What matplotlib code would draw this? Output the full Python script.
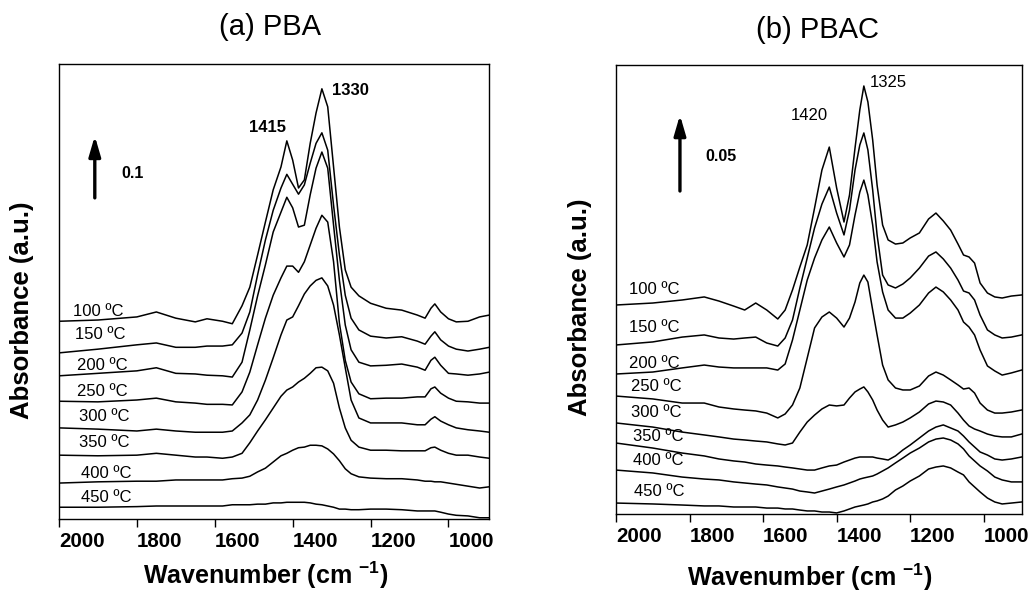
import matplotlib
matplotlib.use("Agg")
import matplotlib.pyplot as plt

plt.rcParams['font.family'] = ['Liberation Sans', 'DejaVu Sans']
plt.rcParams['mathtext.fontset'] = 'custom'
plt.rcParams['mathtext.rm'] = 'Liberation Sans'
plt.rcParams['mathtext.bf'] = 'Liberation Sans:bold'

temps = ["100 ºC", "150 ºC", "200 ºC", "250 ºC", "300 ºC", "350 ºC", "400 ºC", "450 ºC"]
ticks = [2000, 1800, 1600, 1400, 1200, 1000]

# (a) PBA, stacked spectra (absorbance incl. offset)
wn_pba = [2000, 1900, 1800, 1750, 1700, 1650, 1620, 1580, 1555, 1530, 1510, 1490, 1470, 1450,
          1430, 1415, 1400, 1385, 1370, 1355, 1340, 1325, 1310, 1295, 1280, 1265, 1250, 1230,
          1200, 1160, 1120, 1080, 1060, 1045, 1035, 1020, 1000, 980, 950, 920, 895]
pba_100 = [0.319, 0.321, 0.326, 0.334, 0.324, 0.318, 0.323, 0.319, 0.315, 0.344, 0.374, 0.426, 0.479, 0.531,
           0.568, 0.610, 0.579, 0.534, 0.547, 0.606, 0.655, 0.694, 0.665, 0.568, 0.471, 0.402, 0.374, 0.360,
           0.348, 0.340, 0.337, 0.329, 0.324, 0.340, 0.347, 0.334, 0.323, 0.318, 0.319, 0.326, 0.329]
pba_150 = [0.268, 0.274, 0.281, 0.284, 0.277, 0.277, 0.279, 0.279, 0.281, 0.300, 0.334, 0.394, 0.450, 0.498,
           0.534, 0.556, 0.540, 0.524, 0.539, 0.574, 0.606, 0.623, 0.595, 0.506, 0.426, 0.361, 0.324, 0.305,
           0.295, 0.292, 0.294, 0.287, 0.282, 0.295, 0.302, 0.289, 0.279, 0.274, 0.271, 0.274, 0.277]
pba_200 = [0.231, 0.235, 0.239, 0.244, 0.235, 0.234, 0.232, 0.231, 0.229, 0.253, 0.305, 0.360, 0.410, 0.463,
           0.495, 0.519, 0.502, 0.471, 0.474, 0.523, 0.566, 0.592, 0.566, 0.474, 0.385, 0.313, 0.273, 0.253,
           0.247, 0.248, 0.250, 0.245, 0.240, 0.256, 0.261, 0.248, 0.235, 0.234, 0.232, 0.234, 0.237]
pba_250 = [0.190, 0.189, 0.192, 0.195, 0.189, 0.187, 0.185, 0.185, 0.184, 0.205, 0.237, 0.281, 0.324, 0.361,
           0.389, 0.408, 0.408, 0.398, 0.415, 0.442, 0.469, 0.490, 0.479, 0.415, 0.316, 0.256, 0.221, 0.202,
           0.194, 0.195, 0.195, 0.197, 0.197, 0.210, 0.213, 0.203, 0.195, 0.190, 0.189, 0.187, 0.187]
pba_300 = [0.147, 0.145, 0.142, 0.145, 0.142, 0.140, 0.140, 0.140, 0.142, 0.155, 0.168, 0.192, 0.224, 0.260,
           0.297, 0.321, 0.326, 0.344, 0.363, 0.376, 0.385, 0.389, 0.376, 0.345, 0.297, 0.244, 0.192, 0.163,
           0.155, 0.155, 0.155, 0.152, 0.152, 0.161, 0.165, 0.158, 0.152, 0.147, 0.144, 0.142, 0.140]
pba_350 = [0.103, 0.102, 0.103, 0.106, 0.103, 0.100, 0.100, 0.098, 0.100, 0.106, 0.123, 0.142, 0.160, 0.179,
           0.198, 0.208, 0.213, 0.221, 0.227, 0.235, 0.244, 0.245, 0.239, 0.219, 0.179, 0.147, 0.127, 0.116,
           0.111, 0.111, 0.110, 0.110, 0.110, 0.115, 0.116, 0.111, 0.106, 0.103, 0.103, 0.100, 0.098]
pba_400 = [0.058, 0.060, 0.061, 0.061, 0.063, 0.063, 0.063, 0.063, 0.065, 0.066, 0.069, 0.076, 0.082, 0.092,
           0.102, 0.106, 0.111, 0.115, 0.116, 0.119, 0.119, 0.118, 0.113, 0.105, 0.094, 0.081, 0.073, 0.068,
           0.066, 0.065, 0.065, 0.063, 0.061, 0.061, 0.060, 0.060, 0.058, 0.056, 0.053, 0.050, 0.052]
pba_450 = [0.019, 0.019, 0.020, 0.021, 0.021, 0.021, 0.021, 0.021, 0.023, 0.023, 0.023, 0.024, 0.024, 0.026,
           0.026, 0.027, 0.027, 0.027, 0.027, 0.026, 0.024, 0.023, 0.021, 0.019, 0.016, 0.016, 0.015, 0.015,
           0.016, 0.016, 0.015, 0.013, 0.013, 0.013, 0.013, 0.011, 0.008, 0.006, 0.005, 0.002, 0.002]

# (b) PBAC
wn_pbac = [2000, 1900, 1820, 1760, 1720, 1680, 1650, 1620, 1590, 1560, 1540, 1520, 1500, 1480, 1460,
           1440, 1420, 1400, 1380, 1365, 1350, 1337, 1326, 1315, 1302, 1290, 1275, 1260, 1240, 1220,
           1200, 1175, 1150, 1130, 1110, 1090, 1070, 1055, 1040, 1025, 1010, 990, 970, 950, 925, 897]
pbac_100 = [0.1375, 0.1388, 0.1408, 0.1428, 0.1401, 0.1368, 0.1342, 0.1388, 0.1342, 0.1283, 0.1342, 0.1474,
            0.1625, 0.1770, 0.2013, 0.2263, 0.2414, 0.2145, 0.1921, 0.2099, 0.2408, 0.2658, 0.2816, 0.2711,
            0.2461, 0.2164, 0.1901, 0.1803, 0.1776, 0.1783, 0.1816, 0.1849, 0.1941, 0.1980, 0.1928, 0.1868,
            0.1776, 0.1704, 0.1691, 0.1651, 0.1520, 0.1454, 0.1428, 0.1421, 0.1434, 0.1441]
pbac_150 = [0.1112, 0.1132, 0.1164, 0.1178, 0.1158, 0.1151, 0.1158, 0.1164, 0.1125, 0.1105, 0.1158, 0.1276,
            0.1487, 0.1684, 0.1882, 0.2039, 0.2151, 0.1980, 0.1836, 0.2000, 0.2263, 0.2428, 0.2507, 0.2395,
            0.2132, 0.1836, 0.1572, 0.1507, 0.1487, 0.1513, 0.1553, 0.1618, 0.1697, 0.1724, 0.1678, 0.1618,
            0.1539, 0.1467, 0.1454, 0.1408, 0.1309, 0.1211, 0.1178, 0.1158, 0.1164, 0.1178]
pbac_200 = [0.0921, 0.0934, 0.0961, 0.0980, 0.0967, 0.0961, 0.0961, 0.0961, 0.0961, 0.0947, 0.0987, 0.1145,
            0.1342, 0.1539, 0.1684, 0.1803, 0.1888, 0.1783, 0.1691, 0.1770, 0.1967, 0.2118, 0.2197, 0.2099,
            0.1901, 0.1658, 0.1461, 0.1342, 0.1289, 0.1289, 0.1322, 0.1375, 0.1454, 0.1493, 0.1461, 0.1408,
            0.1342, 0.1263, 0.1230, 0.1178, 0.1079, 0.0974, 0.0941, 0.0914, 0.0928, 0.0947]
pbac_250 = [0.0776, 0.0757, 0.0730, 0.0730, 0.0704, 0.0691, 0.0684, 0.0678, 0.0664, 0.0632, 0.0658, 0.0717,
            0.0829, 0.1026, 0.1224, 0.1296, 0.1329, 0.1289, 0.1230, 0.1289, 0.1395, 0.1520, 0.1572, 0.1526,
            0.1342, 0.1178, 0.0980, 0.0882, 0.0829, 0.0816, 0.0816, 0.0842, 0.0908, 0.0934, 0.0914, 0.0882,
            0.0849, 0.0822, 0.0829, 0.0796, 0.0730, 0.0684, 0.0664, 0.0664, 0.0671, 0.0684]
pbac_300 = [0.0599, 0.0572, 0.0539, 0.0520, 0.0507, 0.0493, 0.0487, 0.0480, 0.0474, 0.0461, 0.0454, 0.0467,
            0.0539, 0.0605, 0.0651, 0.0691, 0.0717, 0.0711, 0.0717, 0.0763, 0.0803, 0.0822, 0.0836, 0.0803,
            0.0750, 0.0684, 0.0618, 0.0572, 0.0586, 0.0605, 0.0632, 0.0671, 0.0724, 0.0743, 0.0737, 0.0717,
            0.0664, 0.0618, 0.0579, 0.0559, 0.0546, 0.0526, 0.0513, 0.0507, 0.0507, 0.0526]
pbac_350 = [0.0467, 0.0434, 0.0401, 0.0382, 0.0362, 0.0349, 0.0342, 0.0329, 0.0322, 0.0316, 0.0309, 0.0303,
            0.0296, 0.0289, 0.0289, 0.0303, 0.0316, 0.0322, 0.0342, 0.0355, 0.0368, 0.0375, 0.0375, 0.0375,
            0.0375, 0.0368, 0.0362, 0.0355, 0.0382, 0.0421, 0.0454, 0.0500, 0.0546, 0.0572, 0.0586, 0.0566,
            0.0546, 0.0513, 0.0474, 0.0441, 0.0408, 0.0388, 0.0362, 0.0355, 0.0362, 0.0375]
pbac_400 = [0.0289, 0.0270, 0.0243, 0.0230, 0.0224, 0.0211, 0.0204, 0.0197, 0.0191, 0.0178, 0.0171, 0.0164,
            0.0151, 0.0145, 0.0138, 0.0151, 0.0164, 0.0178, 0.0191, 0.0204, 0.0217, 0.0230, 0.0237, 0.0243,
            0.0250, 0.0263, 0.0283, 0.0303, 0.0336, 0.0368, 0.0401, 0.0434, 0.0474, 0.0493, 0.0500, 0.0487,
            0.0461, 0.0428, 0.0382, 0.0349, 0.0316, 0.0283, 0.0243, 0.0224, 0.0211, 0.0211]
pbac_450 = [0.0072, 0.0066, 0.0059, 0.0053, 0.0053, 0.0046, 0.0046, 0.0046, 0.0039, 0.0039, 0.0033, 0.0033,
            0.0026, 0.0020, 0.0020, 0.0013, 0.0013, 0.0007, 0.0020, 0.0033, 0.0046, 0.0053, 0.0059, 0.0066,
            0.0079, 0.0086, 0.0099, 0.0118, 0.0158, 0.0184, 0.0217, 0.0250, 0.0296, 0.0309, 0.0316, 0.0303,
            0.0276, 0.0257, 0.0211, 0.0178, 0.0145, 0.0105, 0.0079, 0.0066, 0.0072, 0.0079]

pba = [pba_100, pba_150, pba_200, pba_250, pba_300, pba_350, pba_400, pba_450]
pbac = [pbac_100, pbac_150, pbac_200, pbac_250, pbac_300, pbac_350, pbac_400, pbac_450]


def style(ax, ymax):
    ax.set_xlim(2000, 896)
    ax.set_ylim(0, ymax)
    ax.set_yticks([])
    ax.set_xticks(ticks, labels=[str(t) for t in ticks], fontweight="bold", ha="left", fontsize=14.8)
    ax.tick_params(axis="x", direction="out", length=5.5, width=1, pad=4)
    for s in ax.spines.values():
        s.set_linewidth(1.0)


def scale_arrow(ax, x, y0, dy, txt, tx, ty):
    ax.annotate("", xy=(x, y0 + dy), xytext=(x, y0),
                arrowprops=dict(arrowstyle="-|>,head_length=1.2,head_width=0.35", lw=2.4,
                                color="black", shrinkA=0, shrinkB=0, mutation_scale=10))
    ax.text(tx, ty, txt, fontsize=11.5, fontweight="bold", ha="left", va="center")


fig = plt.figure(figsize=(10.29, 5.91), dpi=100)
ax1 = fig.add_axes([0.0573, 0.1218, 0.4179, 0.7699])
ax2 = fig.add_axes([0.5986, 0.1303, 0.3946, 0.7597])

for ys in pba:
    ax1.plot(wn_pba, ys, color="black", lw=1.1)
for ys in pbac:
    ax2.plot(wn_pbac, ys, color="black", lw=1.1)

style(ax1, 0.734)
style(ax2, 0.2954)

# temperature labels
lab_a = [(1964, 0.334), (1959, 0.297), (1954, 0.248), (1954, 0.206),
         (1949, 0.165), (1949, 0.123), (1944, 0.074), (1944, 0.035)]
for t, (x, y) in zip(temps, lab_a):
    ax1.text(x, y, t, fontsize=12, ha="left", va="center")
lab_b = [(1965, 0.1474), (1965, 0.1224), (1965, 0.0993), (1959, 0.0836),
         (1959, 0.0671), (1954, 0.0507), (1954, 0.0349), (1951, 0.0151)]
for t, (x, y) in zip(temps, lab_b):
    ax2.text(x, y, t, fontsize=12, ha="left", va="center")

# peak labels
ax1.text(1464, 0.632, "1415", fontsize=12, fontweight="bold", ha="center", va="center")
ax1.text(1300, 0.692, "1330", fontsize=12, fontweight="bold", ha="left", va="center")
ax2.text(1473, 0.2625, "1420", fontsize=12, ha="center", va="center")
ax2.text(1310, 0.2836, "1325", fontsize=12, ha="left", va="center")

scale_arrow(ax1, 1908, 0.518, 0.1, "0.1", 1841, 0.558)
scale_arrow(ax2, 1826, 0.2125, 0.05, "0.05", 1758, 0.2355)

# titles and axis labels
fig.text(270 / 1029, 1 - 27 / 591, "(a) PBA", fontsize=21, ha="center", va="center")
fig.text(817 / 1029, 1 - 30 / 591, "(b) PBAC", fontsize=21, ha="center", va="center")
xl = r"Wavenumber (cm $^{\mathbf{-1}}$)"
fig.text(266 / 1029, 1 - 575 / 591, xl, fontsize=18, fontweight="bold", ha="center", va="center")
fig.text(810 / 1029, 1 - 577 / 591, xl, fontsize=18, fontweight="bold", ha="center", va="center")
fig.text(22 / 1029, 1 - 310 / 591, "Absorbance (a.u.)", fontsize=18.5, fontweight="bold",
         rotation=90, ha="center", va="center")
fig.text(580 / 1029, 1 - 307 / 591, "Absorbance (a.u.)", fontsize=18.5, fontweight="bold",
         rotation=90, ha="center", va="center")

fig.savefig("out.png", dpi=100)
